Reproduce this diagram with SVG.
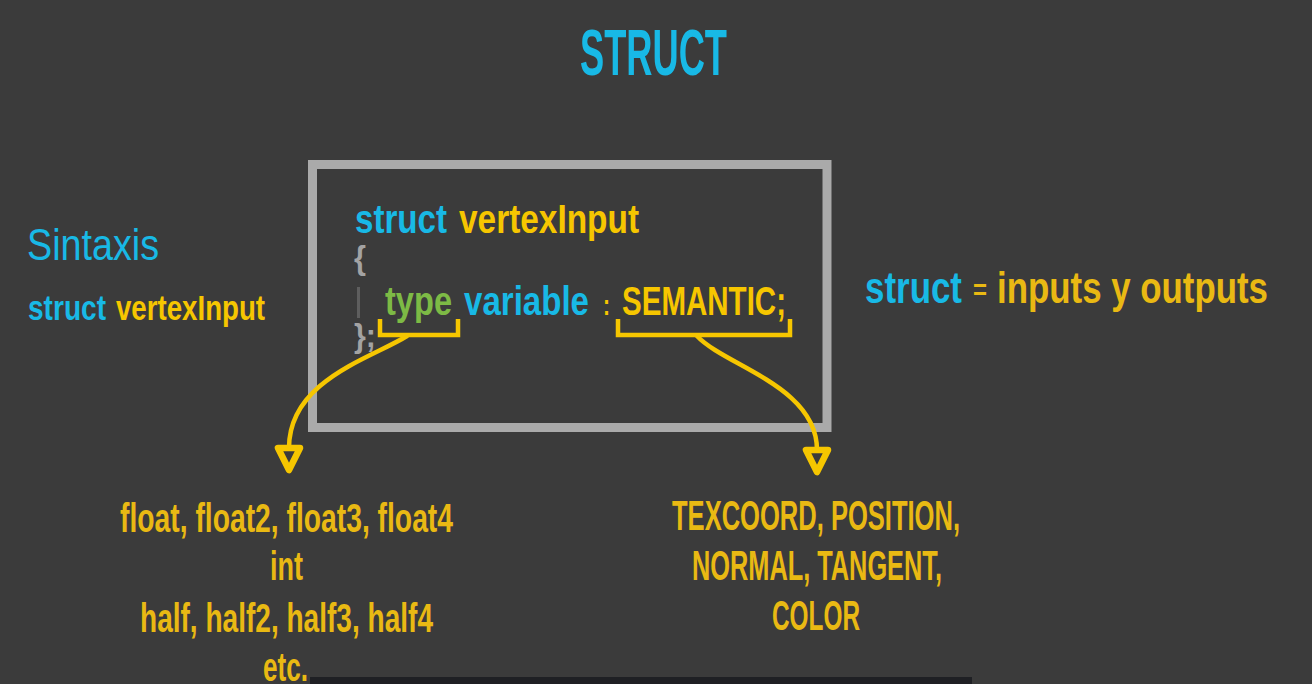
<svg xmlns="http://www.w3.org/2000/svg" width="1312" height="684" viewBox="0 0 1312 684">
<defs>
<style>
text{font-family:"Liberation Sans",Arial,sans-serif;font-weight:bold;}
.cy{fill:#18b9e6;}
.ye{fill:#f6c600;}
.yd{fill:#e9b913;}
.gr{fill:#7dba45;}
.gy{fill:#a3a3a3;}
.conn{fill:none;stroke:#f6c600;stroke-width:4.5;stroke-linecap:round;}
.brk{fill:none;stroke:#f6c600;stroke-width:4.5;stroke-linejoin:miter;}
</style>
<marker id="tri" markerUnits="userSpaceOnUse" viewBox="-5 -18 36 36" markerWidth="36" markerHeight="36" refX="0" refY="0" orient="auto" overflow="visible">
<path d="M0,-11 L22,0 L0,11 Z" fill="#3b3b3b" stroke="#f6c600" stroke-width="6.5" stroke-linejoin="round"/>
</marker>
</defs>
<rect x="0" y="0" width="1312" height="684" fill="#3b3b3b"/>

<g id="title">
<text x="580" y="75" font-size="65" textLength="147" lengthAdjust="spacingAndGlyphs" class="cy">STRUCT</text>
</g>

<g id="sintaxis">
<text x="27" y="260" font-size="45" textLength="132" lengthAdjust="spacingAndGlyphs" class="cy" style="font-weight:normal">Sintaxis</text>
<text x="28" y="320" font-size="35" textLength="78" lengthAdjust="spacingAndGlyphs" class="cy">struct</text>
<text x="116" y="320" font-size="35" textLength="149" lengthAdjust="spacingAndGlyphs" class="ye">vertexInput</text>
</g>

<g id="code-box">
<rect x="312.5" y="164.5" width="514.5" height="263" fill="none" stroke="#aaaaaa" stroke-width="9"/>
<text x="355" y="233" font-size="40" textLength="92" lengthAdjust="spacingAndGlyphs" class="cy">struct</text>
<text x="459" y="233" font-size="40" textLength="180" lengthAdjust="spacingAndGlyphs" class="ye">vertexInput</text>
<text x="354" y="269" font-size="34" textLength="12" lengthAdjust="spacingAndGlyphs" class="gy">{</text>
<rect x="357" y="287" width="3" height="31" fill="#5e5e5e"/>
<text x="385" y="315" font-size="40" textLength="67" lengthAdjust="spacingAndGlyphs" class="gr">type</text>
<text x="464" y="315" font-size="40" textLength="125" lengthAdjust="spacingAndGlyphs" class="cy">variable</text>
<text x="603" y="315" font-size="30" textLength="7" lengthAdjust="spacingAndGlyphs" class="ye">:</text>
<text x="622" y="315" font-size="40" textLength="164" lengthAdjust="spacingAndGlyphs" class="ye">SEMANTIC;</text>
<text x="354" y="347" font-size="34" textLength="22" lengthAdjust="spacingAndGlyphs" class="gy">};</text>
<path class="brk" d="M380,319 V335 H458 V319"/>
<path class="brk" d="M618,319 V335 H790 V319"/>
</g>

<g id="struct-def">
<text x="865" y="303" font-size="45" textLength="97" lengthAdjust="spacingAndGlyphs" class="cy">struct</text>
<text x="973" y="299" font-size="28" textLength="14" lengthAdjust="spacingAndGlyphs" class="yd">=</text>
<text x="997" y="303" font-size="45" textLength="271" lengthAdjust="spacingAndGlyphs" class="yd">inputs y outputs</text>
</g>

<g id="types">
<text x="120" y="532" font-size="41" textLength="333" lengthAdjust="spacingAndGlyphs" class="yd">float, float2, float3, float4</text>
<text x="270" y="580" font-size="41" textLength="33" lengthAdjust="spacingAndGlyphs" class="yd">int</text>
<text x="140" y="632" font-size="41" textLength="293" lengthAdjust="spacingAndGlyphs" class="yd">half, half2, half3, half4</text>
<text x="263" y="681" font-size="41" textLength="45" lengthAdjust="spacingAndGlyphs" class="yd">etc.</text>
</g>

<g id="semantics">
<text x="672" y="530" font-size="42" textLength="288" lengthAdjust="spacingAndGlyphs" class="yd">TEXCOORD, POSITION,</text>
<text x="692" y="580" font-size="42" textLength="250" lengthAdjust="spacingAndGlyphs" class="yd">NORMAL, TANGENT,</text>
<text x="772" y="630" font-size="42" textLength="88" lengthAdjust="spacingAndGlyphs" class="yd">COLOR</text>
</g>

<g id="connectors">
<path class="conn" d="M407,336 C372,358 289,380 289,448" marker-end="url(#tri)"/>
<path class="conn" d="M697,336 C725,366 817,386 817,450" marker-end="url(#tri)"/>
</g>

<rect x="310" y="677" width="662" height="7" fill="#1f2024"/>
</svg>
